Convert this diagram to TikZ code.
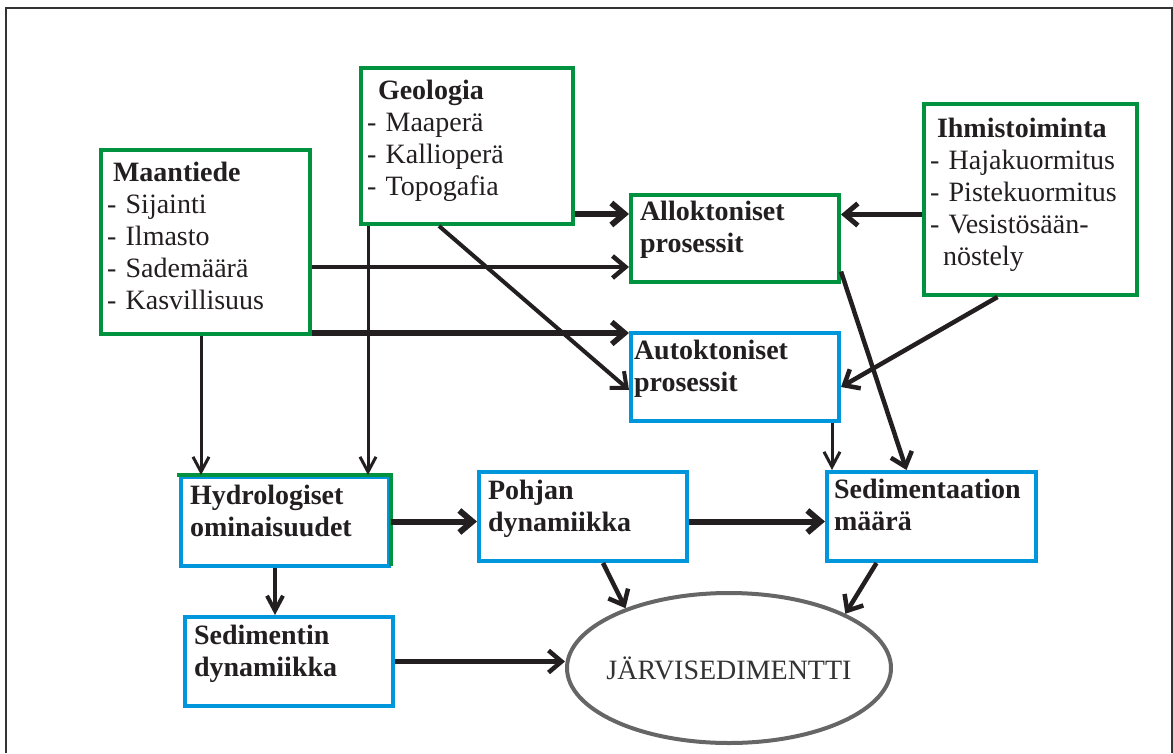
\documentclass[tikz,border=0pt]{standalone}
\usepackage{fontspec}
\setmainfont{Liberation Serif}
\usetikzlibrary{arrows.meta, shapes.geometric}
\definecolor{boxgreen}{HTML}{00923F}
\definecolor{boxblue}{HTML}{0096DB}
\definecolor{ellgray}{HTML}{666666}
\definecolor{arrowblack}{HTML}{231F20}
\definecolor{framegray}{HTML}{333333}

\begin{document}
\begin{tikzpicture}[
    x=1pt, y=-1pt,
    box/.style = {rectangle, line width=4pt, fill=white, anchor=north west,
                  align=left, inner ysep=0pt, inner xsep=9pt, text=arrowblack,
                  font=\fontsize{28}{32}\selectfont},
    greenbox/.style = {box, draw=boxgreen},
    bluebox/.style = {box, draw=boxblue},
    headbox/.style = {font=\fontsize{28}{32}\selectfont\bfseries},
    dims/.style n args = {3}{text width=#1pt, text height=#2pt, text depth=#3pt},
    arrow/.style = {-{Straight Barb[length=13pt,width=22pt]}, line width=4.5pt, color=arrowblack},
    fatarrow/.style = {arrow, line width=6pt},
    thinarrow/.style = {-{Straight Barb[length=15pt,width=16pt]}, line width=3pt, color=arrowblack}
  ]
  \useasboundingbox (0,0) rectangle (1173,753);
  \draw[framegray, line width=1.5pt] (6,753) -- (6,8) -- (1172,8) -- (1172,753);

  % factors
  \node[greenbox, inner xsep=6pt, dims={200}{31}{125}] (geo) at (359,66)
    {\hspace*{11pt}\textbf{Geologia}\\- Maaperä\\- Kallioperä\\- Topogafia};
  \node[greenbox, inner xsep=6pt, dims={197}{31}{153}] (maa) at (99,148)
    {\hspace*{6pt}\textbf{Maantiede}\\- Sijainti\\- Ilmasto\\- Sademäärä\\- Kasvillisuus};
  \node[greenbox, inner xsep=6pt, dims={201}{33}{158}] (ihm) at (922,102)
    {\hspace*{7pt}\textbf{Ihmistoiminta}\\- Hajakuormitus\\- Pistekuormitus\\- Vesistösään-\\\hspace*{13pt}nöstely};

  % processes
  \node[greenbox, headbox, dims={190}{25}{62}] (allo) at (629,193) {Alloktoniset\\prosessit};
  \node[bluebox, headbox, inner xsep=3pt, dims={202}{26}{62}] (auto) at (629,331) {Autoktoniset\\prosessit};
  \node[bluebox, headbox, dims={190}{27}{62}] (hydro) at (179,475) {Hydrologiset\\ominaisuudet};
  \draw[boxgreen, line width=4pt] ([yshift=2pt]hydro.south east) -- (hydro.north east) -- ([xshift=-2pt]hydro.north west);
  \node[bluebox, headbox, dims={190}{27}{62}] (pohj) at (477,470) {Pohjan\\dynamiikka};
  \node[bluebox, headbox, inner xsep=7pt, dims={195}{26}{63}] (sedm) at (825,470) {Sedimentaation\\määrä};
  \node[bluebox, headbox, dims={190}{27}{62}] (sedin) at (183,615) {Sedimentin\\dynamiikka};

  \node[ellipse, draw=ellgray, line width=4pt, fill=white, inner xsep=-12pt, inner ysep=0pt,
        minimum width=324pt, minimum height=150pt, text=framegray,
        font=\fontsize{28}{32}\selectfont] (ell) at (729,668) {JÄRVISEDIMENTTI};

  % arrows
  \draw[fatarrow] ([yshift=12pt]geo.south east) -- ([yshift=12pt]geo.south east -| allo.west);
  \draw[arrow] ([yshift=-25pt]maa.east) -- ([yshift=-25pt]maa.east -| allo.west);
  \draw[arrow, line width=5.5pt] ([yshift=3pt]maa.south east) -- ([yshift=3pt]maa.south east -| auto.west);
  \draw[arrow, line width=4pt] ([xshift=-28pt]geo.south) -- ([yshift=-13pt]auto.west);
  \draw[thinarrow] ([xshift=9pt]geo.south west) -- ([xshift=9pt]geo.south west |- hydro.north);
  \draw[thinarrow] ([xshift=22pt]hydro.north west |- maa.south) -- ([xshift=22pt]hydro.north west);
  \draw[arrow, line width=5pt] ([yshift=-15pt]ihm.west) -- ([yshift=-15pt]ihm.west -| allo.east);
  \draw[arrow] ([xshift=-33pt]ihm.south) -- ([yshift=-10pt]auto.east);
  \draw[arrow] ([yshift=-33pt]allo.east) -- ([xshift=-25pt]sedm.north);
  \draw[thinarrow] ([xshift=-9pt]auto.south east) -- ([xshift=-9pt]auto.south east |- sedm.north);
  \draw[fatarrow] (hydro.east) -- (hydro.east -| pohj.west);
  \draw[fatarrow] ([yshift=-5pt]pohj.east) -- ([yshift=-5pt]pohj.east -| sedm.west);
  \draw[thinarrow, line width=4pt] ([xshift=-10pt]hydro.south) -- ([xshift=-10pt]hydro.south |- sedin.north);
  \draw[arrow] ([xshift=20pt]pohj.south) -- (ell.150);
  \draw[arrow] ([xshift=-55pt]sedm.south) -- (ell.25);
  \draw[arrow] (sedin.east) -- (sedin.east -| ell.west);
\end{tikzpicture}
\end{document}
